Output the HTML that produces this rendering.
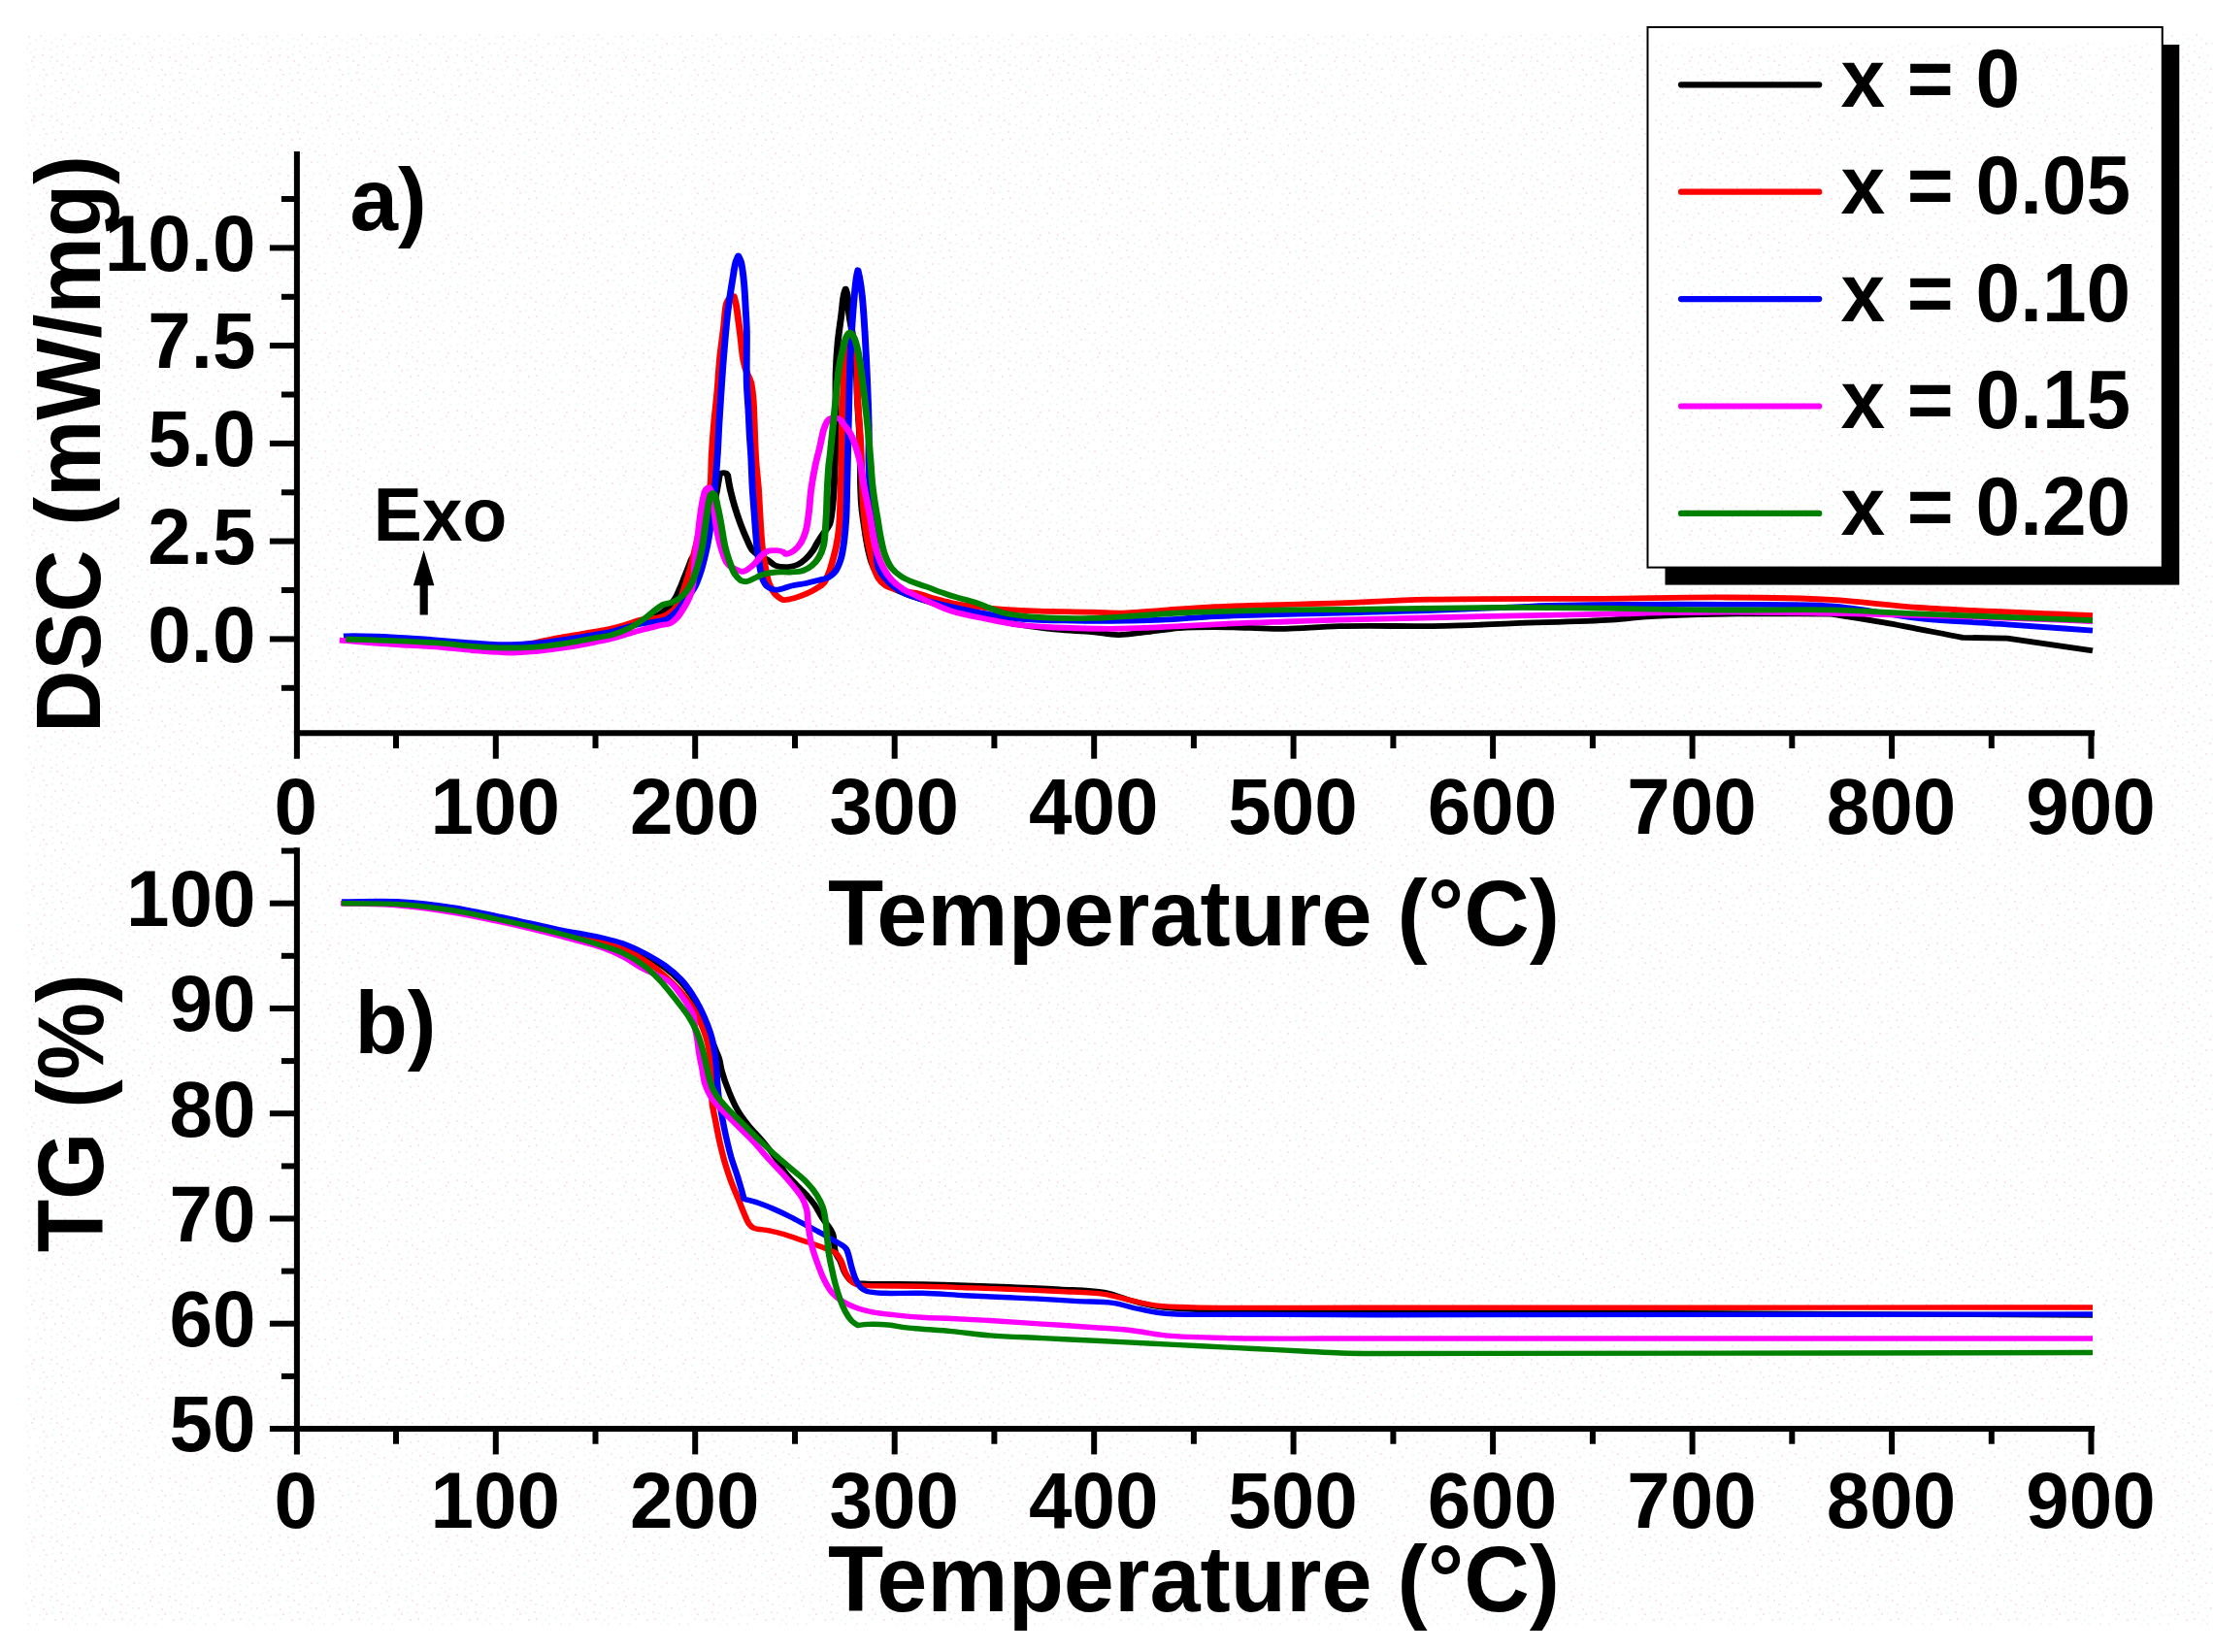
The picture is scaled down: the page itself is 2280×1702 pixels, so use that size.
<!DOCTYPE html>
<html lang="en"><head><meta charset="utf-8"><title>DSC and TG curves</title>
<style>html,body{margin:0;padding:0;background:#fff}body{width:2280px;height:1702px;overflow:hidden}svg{display:block}text{font-family:"Liberation Sans", sans-serif;font-weight:700;fill:#000}</style></head><body>
<svg width="2280" height="1702" viewBox="0 0 2280 1702">
<defs><pattern id="dz" width="61" height="61" patternUnits="userSpaceOnUse"><rect x="20.2" y="9.2" width="1.6" height="1.6" fill="#f6d8e1"/><rect x="41.2" y="3.2" width="1.6" height="1.6" fill="#e6f5f6"/><rect x="52.2" y="34.2" width="1.6" height="1.6" fill="#e6f5f6"/><rect x="23.2" y="37.2" width="1.6" height="1.6" fill="#e6f5f6"/><rect x="58.2" y="32.2" width="1.6" height="1.6" fill="#e6f5f6"/><rect x="2.2" y="5.2" width="1.6" height="1.6" fill="#f6d8e1"/><rect x="26.2" y="4.2" width="1.6" height="1.6" fill="#e6f5f6"/><rect x="5.2" y="35.2" width="1.6" height="1.6" fill="#f6d8e1"/><rect x="3.2" y="52.2" width="1.6" height="1.6" fill="#f0f1df"/><rect x="7.2" y="14.2" width="1.6" height="1.6" fill="#f0f1df"/><rect x="37.2" y="25.2" width="1.6" height="1.6" fill="#e6f5f6"/><rect x="14.2" y="2.2" width="1.6" height="1.6" fill="#f0f1df"/><rect x="54.2" y="8.2" width="1.6" height="1.6" fill="#e6f5f6"/><rect x="34.2" y="7.2" width="1.6" height="1.6" fill="#f0f1df"/><rect x="52.2" y="43.2" width="1.6" height="1.6" fill="#e6f5f6"/><rect x="36.2" y="40.2" width="1.6" height="1.6" fill="#e6f5f6"/><rect x="13.2" y="31.2" width="1.6" height="1.6" fill="#f0f1df"/><rect x="27.2" y="49.2" width="1.6" height="1.6" fill="#e6f5f6"/><rect x="29.2" y="37.2" width="1.6" height="1.6" fill="#f6d8e1"/><rect x="23.2" y="19.2" width="1.6" height="1.6" fill="#e6f5f6"/><rect x="44.2" y="49.2" width="1.6" height="1.6" fill="#e6f5f6"/><rect x="19.2" y="33.2" width="1.6" height="1.6" fill="#f6d8e1"/><rect x="56.2" y="21.2" width="1.6" height="1.6" fill="#f6d8e1"/><rect x="10.2" y="48.2" width="1.6" height="1.6" fill="#e6f5f6"/><rect x="36.2" y="50.2" width="1.6" height="1.6" fill="#e6f5f6"/><rect x="21.2" y="44.2" width="1.6" height="1.6" fill="#e6f5f6"/><rect x="38.2" y="31.2" width="1.6" height="1.6" fill="#f0f1df"/><rect x="30.2" y="44.2" width="1.6" height="1.6" fill="#e6f5f6"/><rect x="3.2" y="46.2" width="1.6" height="1.6" fill="#e6f5f6"/><rect x="41.2" y="36.2" width="1.6" height="1.6" fill="#f6d8e1"/><rect x="24.2" y="56.2" width="1.6" height="1.6" fill="#e6f5f6"/><rect x="1.2" y="29.2" width="1.6" height="1.6" fill="#e6f5f6"/><rect x="10.2" y="39.2" width="1.6" height="1.6" fill="#e6f5f6"/><rect x="47.2" y="15.2" width="1.6" height="1.6" fill="#f6d8e1"/><rect x="28.2" y="25.2" width="1.6" height="1.6" fill="#f0f1df"/><rect x="17.2" y="56.2" width="1.6" height="1.6" fill="#e6f5f6"/><rect x="52.2" y="27.2" width="1.6" height="1.6" fill="#f0f1df"/><rect x="43.2" y="56.2" width="1.6" height="1.6" fill="#f6d8e1"/><rect x="14.2" y="9.2" width="1.6" height="1.6" fill="#e6f5f6"/><rect x="31.2" y="53.2" width="1.6" height="1.6" fill="#f0f1df"/><rect x="9.2" y="26.2" width="1.6" height="1.6" fill="#f0f1df"/><rect x="57.2" y="55.2" width="1.6" height="1.6" fill="#f0f1df"/><rect x="28.2" y="10.2" width="1.6" height="1.6" fill="#e6f5f6"/><rect x="40.2" y="16.2" width="1.6" height="1.6" fill="#e6f5f6"/><rect x="9.2" y="6.2" width="1.6" height="1.6" fill="#e6f5f6"/><rect x="44.2" y="10.2" width="1.6" height="1.6" fill="#f6d8e1"/><rect x="1.2" y="13.2" width="1.6" height="1.6" fill="#f6d8e1"/><rect x="58.2" y="1.2" width="1.6" height="1.6" fill="#f6d8e1"/><rect x="51.2" y="50.2" width="1.6" height="1.6" fill="#e6f5f6"/><rect x="30.2" y="16.2" width="1.6" height="1.6" fill="#e6f5f6"/><rect x="22.2" y="28.2" width="1.6" height="1.6" fill="#e6f5f6"/><rect x="12.2" y="21.2" width="1.6" height="1.6" fill="#e6f5f6"/><rect x="57.2" y="39.2" width="1.6" height="1.6" fill="#e6f5f6"/><rect x="46.2" y="41.2" width="1.6" height="1.6" fill="#e6f5f6"/><rect x="58.2" y="47.2" width="1.6" height="1.6" fill="#e6f5f6"/><rect x="52.2" y="58.2" width="1.6" height="1.6" fill="#f6d8e1"/><rect x="32.2" y="1.2" width="1.6" height="1.6" fill="#f6d8e1"/><rect x="3.2" y="20.2" width="1.6" height="1.6" fill="#f6d8e1"/><rect x="15.2" y="44.2" width="1.6" height="1.6" fill="#f6d8e1"/><rect x="53.2" y="14.2" width="1.6" height="1.6" fill="#e6f5f6"/><rect x="45.2" y="27.2" width="1.6" height="1.6" fill="#f6d8e1"/><rect x="16.2" y="17.2" width="1.6" height="1.6" fill="#e6f5f6"/><rect x="16.2" y="25.2" width="1.6" height="1.6" fill="#e6f5f6"/><rect x="34.2" y="58.2" width="1.6" height="1.6" fill="#f6d8e1"/><rect x="44.2" y="20.2" width="1.6" height="1.6" fill="#e6f5f6"/><rect x="51.2" y="1.2" width="1.6" height="1.6" fill="#e6f5f6"/><rect x="8.2" y="58.2" width="1.6" height="1.6" fill="#f6d8e1"/><rect x="1.2" y="40.2" width="1.6" height="1.6" fill="#f0f1df"/></pattern></defs>
<rect width="2280" height="1702" fill="#ffffff"/>
<rect x="26" y="35" width="2254" height="1639" fill="url(#dz)"/>
<g id="top-curves" transform="scale(1.200 1)">
<path d="M297.50 659.0C310.83 659.5 324.10 659.8 337.50 660.5C351.04 661.2 366.07 662.0 378.33 663.0C388.41 663.9 396.73 665.2 405.83 666.0C414.78 666.7 423.54 667.4 432.50 667.5C441.59 667.6 450.92 667.3 460.00 666.5C468.97 665.7 477.73 664.2 486.67 662.5C495.79 660.7 505.13 658.8 514.17 656.0C523.19 653.3 534.36 649.3 540.83 646.0C544.79 644.0 546.48 641.9 550.00 640.0C554.39 637.7 561.44 635.9 565.33 633.5C568.03 631.8 569.56 630.3 571.67 628.0C574.29 625.1 577.46 620.5 579.50 616.8C581.26 613.6 582.21 610.5 583.50 607.1C584.92 603.3 586.24 599.0 587.58 595.0C588.93 591.0 590.33 586.6 591.58 582.9C592.64 579.8 593.12 577.2 594.58 574.4C596.30 571.2 599.68 569.0 601.67 565.0C604.24 559.8 605.83 551.7 607.50 545.0C609.15 538.4 610.37 531.4 611.67 525.0C612.86 519.1 614.01 513.8 615.00 508.0C616.02 502.0 616.78 495.7 617.67 489.5C618.17 488.9 618.45 488.0 619.17 487.6C620.15 487.1 622.39 487.1 623.33 487.6C624.00 488.0 624.22 488.9 624.67 489.5C625.42 494.4 625.96 499.1 626.92 504.2C627.99 510.0 629.41 516.4 630.92 522.4C632.43 528.5 634.23 534.8 636.00 540.5C637.60 545.6 639.26 550.4 641.00 555.0C642.63 559.3 643.93 564.1 646.08 567.2C647.90 569.8 650.27 571.4 652.50 573.0C654.64 574.6 656.97 575.2 659.17 576.8C661.56 578.5 663.50 581.7 666.25 582.9C669.28 584.3 673.50 584.4 676.75 584.1C679.64 583.8 682.33 583.1 684.83 581.7C687.39 580.3 689.76 578.0 691.92 575.6C694.13 573.2 696.20 570.1 697.92 567.2C699.53 564.5 700.56 561.5 702.00 558.7C703.48 555.8 705.04 552.9 706.67 550.0C708.39 546.9 710.85 544.0 712.08 540.5C713.36 536.9 713.53 532.9 714.08 528.4C714.75 523.0 715.18 516.8 715.58 510.3C716.05 502.8 716.24 495.1 716.58 486.1C717.02 474.6 717.76 459.8 717.92 447.0C718.07 434.7 717.60 422.1 717.58 410.7C717.57 400.5 717.46 391.3 717.75 381.6C718.04 371.9 718.56 362.3 719.33 352.6C720.11 342.9 721.51 332.3 722.42 323.6C723.16 316.4 723.60 308.7 724.42 304.0C724.89 301.3 725.47 299.7 726.00 297.6C726.50 299.7 727.08 301.3 727.50 304.0C728.23 308.7 728.27 316.9 729.00 323.6C729.77 330.7 731.14 338.1 732.08 345.3C733.03 352.6 734.02 358.6 734.67 367.1C735.58 379.1 735.56 396.2 736.17 410.7C736.78 425.2 737.90 441.6 738.33 454.2C738.67 463.9 738.76 472.1 738.83 480.0C738.90 486.6 738.70 491.7 738.83 498.2C738.99 505.7 739.27 514.9 739.83 522.4C740.32 528.9 741.14 534.7 741.83 540.5C742.48 545.9 743.12 551.4 743.83 556.3C744.46 560.6 745.06 564.5 745.83 568.4C746.57 572.1 747.24 575.7 748.33 579.3C749.45 582.9 750.79 586.8 752.50 590.0C754.15 593.1 756.07 595.9 758.33 598.5C760.75 601.3 763.60 603.8 766.67 606.0C769.95 608.3 773.29 610.0 777.50 612.0C783.10 614.7 790.91 617.3 797.50 620.0C803.96 622.6 809.51 625.4 816.67 628.0C825.50 631.2 836.64 634.3 846.67 637.0C856.64 639.7 866.60 642.1 876.67 644.0C886.77 646.0 897.00 647.5 907.17 648.7C917.28 649.9 928.15 650.0 937.50 651.0C945.57 651.9 952.50 654.0 960.00 654.1C967.50 654.2 974.47 652.5 982.50 651.4C991.79 650.2 1002.48 647.9 1012.50 647.0C1022.48 646.1 1032.43 646.0 1042.50 646.0C1052.71 646.0 1063.13 646.6 1073.33 646.9C1083.40 647.2 1092.24 647.9 1103.33 647.8C1117.18 647.6 1131.91 645.7 1150.00 645.2C1175.11 644.5 1212.93 645.5 1240.00 644.9C1262.26 644.4 1279.01 643.2 1300.83 642.2C1326.24 641.1 1361.97 640.2 1383.33 638.6C1396.93 637.6 1404.93 635.9 1416.67 635.0C1429.77 634.0 1445.22 633.4 1458.33 633.0C1470.06 632.6 1478.13 632.5 1491.67 632.4C1512.74 632.2 1545.56 632.5 1572.50 632.6C1587.50 635.5 1601.01 637.9 1617.50 641.4C1637.75 645.7 1662.50 651.7 1685.00 656.8L1723.33 657.7L1796.67 670.4" fill="none" stroke="#000000" stroke-width="5.8" stroke-linejoin="round" stroke-linecap="butt"/>
<path d="M297.50 659.0C310.83 659.3 324.10 659.5 337.50 660.0C351.04 660.5 366.07 661.1 378.33 662.0C388.41 662.7 396.73 663.8 405.83 664.5C414.79 665.2 423.56 666.4 432.50 666.0C441.61 665.6 452.50 663.5 460.00 662.0C465.27 660.9 468.10 659.7 473.33 658.5C480.77 656.7 491.61 654.7 500.42 652.8C508.81 651.0 518.12 649.4 525.00 647.5C530.07 646.1 533.81 644.7 538.08 643.2C542.22 641.7 545.93 639.8 550.25 638.6C554.97 637.3 561.13 637.5 565.33 636.2C568.50 635.2 570.85 634.4 573.42 632.5C576.27 630.4 579.47 627.3 581.50 624.0C583.44 620.8 584.23 617.1 585.50 613.2C586.95 608.7 588.36 603.3 589.58 598.6C590.69 594.4 591.72 590.3 592.58 586.5C593.35 583.1 593.82 580.6 594.58 576.8C595.65 571.6 597.08 564.6 598.33 558.0C599.72 550.7 601.14 542.4 602.50 535.0C603.77 528.1 604.92 521.0 606.25 515.0C607.36 510.0 608.93 506.9 609.75 501.3C610.99 492.8 610.53 479.6 611.08 468.7C611.64 457.8 612.29 446.9 613.08 436.0C613.88 425.1 615.03 414.2 615.83 403.3C616.64 392.4 617.02 381.6 617.92 370.7C618.82 359.8 620.18 348.3 621.25 338.0C622.20 328.8 622.34 317.3 624.00 311.9C624.84 309.2 625.87 307.4 627.08 306.3C628.00 305.5 629.14 305.6 630.17 305.3C630.75 308.0 631.35 310.1 631.92 313.5C632.82 319.0 633.76 328.5 634.50 335.0C635.11 340.4 635.57 344.8 636.08 350.0C636.63 355.5 637.05 362.2 637.67 367.0C638.12 370.5 638.57 373.2 639.17 376.0C639.72 378.6 640.28 380.8 641.08 383.5C642.03 386.6 643.70 389.7 644.58 393.5C645.68 398.2 646.10 404.1 646.58 410.0C647.14 416.8 647.23 424.4 647.50 432.0C647.79 440.3 647.93 449.7 648.25 458.0C648.55 465.6 648.87 472.7 649.33 480.0C649.79 487.2 650.52 493.8 651.00 501.3C651.54 509.8 651.89 519.6 652.33 528.4C652.75 536.7 653.08 545.1 653.58 552.6C654.02 559.1 654.44 565.1 655.08 570.8C655.66 575.9 656.34 580.4 657.17 585.3C658.03 590.4 658.68 596.4 660.17 601.0C661.48 605.1 663.32 609.1 665.25 611.9C666.77 614.1 668.81 615.8 670.25 616.8C671.18 617.5 671.63 617.9 672.75 618.0C674.81 618.3 678.76 617.2 681.83 616.2C685.14 615.2 688.79 613.5 691.92 611.9C694.78 610.4 697.39 608.9 699.92 607.1C702.41 605.3 705.05 603.7 707.00 601.0C709.22 597.9 710.72 593.0 712.08 588.9C713.40 584.9 714.12 581.0 715.08 576.8C716.13 572.2 717.24 567.3 718.08 562.3C718.95 557.2 719.66 552.0 720.17 546.6C720.71 540.8 720.90 534.9 721.17 528.4C721.48 520.9 721.64 512.3 721.83 504.2C722.03 496.1 722.17 489.1 722.33 480.0C722.54 468.3 722.65 452.3 722.92 440.0C723.14 429.5 723.43 420.4 723.75 410.7C724.07 401.0 724.30 390.3 724.83 381.6C725.27 374.4 725.61 366.7 726.50 362.0C727.02 359.2 727.48 355.7 728.42 355.5C729.26 355.3 730.66 357.9 731.67 359.5C732.92 361.5 734.24 363.4 735.08 367.1C736.98 375.5 735.72 396.2 736.33 410.7C736.94 425.2 738.10 439.7 738.75 454.2C739.41 468.8 739.78 485.7 740.25 498.2C740.60 507.5 740.77 514.9 741.25 522.4C741.67 528.9 742.21 534.7 742.83 540.5C743.42 546.0 744.07 551.2 744.83 556.3C745.57 561.2 746.41 566.0 747.33 570.8C748.27 575.6 749.14 580.9 750.42 585.3C751.55 589.3 752.65 593.1 754.42 596.2C756.07 599.1 757.99 601.6 760.50 603.5C763.33 605.7 766.91 606.8 770.83 608.0C775.73 609.5 782.31 609.8 787.75 611.3C792.96 612.8 797.90 615.2 802.83 616.8C807.53 618.4 811.47 619.7 816.67 621.0C823.23 622.6 831.65 624.0 839.17 625.2C846.65 626.3 853.59 627.2 861.67 627.9C871.03 628.7 880.94 629.3 892.08 629.7C905.67 630.2 923.77 630.3 937.33 630.6C948.41 630.9 957.45 631.8 967.50 631.5C977.56 631.2 986.59 629.7 997.67 628.8C1011.22 627.7 1027.83 626.1 1042.92 625.2C1057.99 624.3 1071.91 623.9 1088.17 623.3C1107.17 622.6 1128.37 622.3 1150.00 621.4C1173.89 620.4 1195.96 618.5 1225.42 617.7C1267.06 616.6 1330.27 617.2 1376.25 616.8C1414.99 616.4 1449.30 615.2 1483.33 615.5C1514.35 615.7 1543.86 616.0 1572.25 617.9C1598.45 619.7 1618.26 623.6 1647.67 626.0C1688.93 629.4 1747.00 631.5 1796.67 634.2" fill="none" stroke="#ff0000" stroke-width="5.8" stroke-linejoin="round" stroke-linecap="butt"/>
<path d="M295.00 655.6C296.11 655.5 296.56 655.3 298.33 655.3C305.40 655.1 333.45 656.2 351.17 657.4C369.14 658.6 390.42 661.2 405.42 662.4C416.02 663.2 423.53 664.2 432.58 664.2C441.64 664.2 450.72 663.5 459.75 662.6C468.80 661.6 477.81 660.1 486.83 658.5C495.90 656.9 506.96 654.4 514.00 653.0C518.48 652.1 521.07 651.8 525.00 650.7C529.68 649.4 535.44 646.9 540.17 645.5C544.25 644.3 547.81 643.3 551.67 642.5C555.53 641.6 559.70 641.2 563.33 640.4C566.56 639.7 569.62 639.6 572.42 638.0C575.37 636.3 577.86 633.3 580.50 630.1C583.60 626.4 586.82 621.2 589.58 616.8C592.14 612.7 594.61 609.2 596.58 604.7C598.70 599.9 600.18 594.4 601.67 588.9C603.23 583.1 604.48 576.9 605.67 570.8C606.84 564.8 607.90 558.7 608.75 552.6C609.59 546.6 610.13 540.7 610.75 534.5C611.39 528.1 611.95 520.9 612.50 515.0C612.96 510.0 613.38 506.8 613.83 501.3C614.53 492.8 615.40 479.6 616.00 468.7C616.60 457.8 616.89 446.9 617.42 436.0C617.94 425.1 618.56 414.2 619.17 403.3C619.78 392.4 620.27 382.7 621.08 370.7C622.08 356.0 623.38 336.4 624.83 321.7C626.03 309.7 627.56 298.4 628.83 289.0C629.81 281.8 630.54 274.6 631.67 270.0C632.35 267.2 633.17 265.7 633.92 263.5C634.69 265.7 635.59 267.2 636.25 270.0C637.34 274.6 637.96 282.0 638.58 289.0C639.35 297.6 639.73 309.0 640.17 318.0C640.54 325.8 640.90 331.1 641.08 340.0C641.37 353.9 640.69 378.0 641.08 393.5C641.38 405.4 642.23 415.3 642.67 425.0C643.04 433.3 643.22 440.5 643.58 448.0C643.92 455.1 644.38 460.9 644.75 468.7C645.23 478.9 645.55 493.5 646.08 504.2C646.52 513.0 647.08 520.3 647.58 528.4C648.08 536.5 648.54 545.1 649.08 552.6C649.55 559.1 649.95 565.1 650.58 570.8C651.15 575.9 651.79 580.7 652.58 585.3C653.31 589.5 653.82 594.0 655.08 597.4C656.14 600.3 657.32 603.0 659.17 604.7C661.03 606.4 663.49 607.6 666.25 607.7C670.01 607.9 675.35 604.6 679.75 603.5C683.89 602.4 688.07 602.0 691.92 601.0C695.45 600.1 698.73 599.0 702.00 598.0C705.11 597.0 708.49 596.6 711.08 595.0C713.45 593.5 715.41 591.6 717.08 588.9C719.07 585.7 720.50 581.1 721.67 576.8C722.90 572.3 723.51 567.2 724.17 562.3C724.85 557.2 725.26 552.0 725.67 546.6C726.11 540.8 726.42 534.9 726.67 528.4C726.95 520.9 727.00 512.3 727.17 504.2C727.33 496.1 727.49 488.9 727.67 480.0C727.88 469.2 728.11 455.8 728.33 444.0C728.55 432.5 728.74 421.8 729.00 410.0C729.29 397.2 729.57 382.6 730.00 370.0C730.39 358.7 730.84 348.5 731.42 337.7C732.00 326.8 732.77 314.4 733.50 305.0C734.06 297.8 734.60 290.9 735.25 286.0C735.67 282.8 736.14 280.9 736.58 278.3C737.06 280.9 737.52 282.9 738.00 286.0C738.74 290.9 739.58 297.5 740.25 305.0C741.22 315.9 741.95 330.9 742.67 345.0C743.47 361.0 744.19 379.3 744.75 396.0C745.29 412.2 745.85 429.6 746.00 444.0C746.12 455.7 745.68 466.3 745.83 476.0C745.96 484.1 746.21 491.2 746.67 498.2C747.08 504.5 747.81 509.9 748.33 516.3C748.93 523.7 749.39 532.0 750.00 540.0C750.63 548.2 751.30 557.1 752.08 565.0C752.79 572.1 752.79 579.9 754.42 585.3C755.63 589.3 757.45 591.9 759.50 595.0C761.74 598.4 764.51 601.9 767.50 604.7C770.55 607.6 774.02 609.9 777.67 611.9C781.50 614.0 785.82 615.5 790.00 617.0C794.21 618.5 798.47 619.7 802.83 621.0C807.35 622.4 811.16 623.5 816.67 625.0C824.77 627.2 836.75 630.3 846.83 632.4C856.87 634.5 865.90 636.6 877.00 637.8C890.53 639.3 907.16 639.3 922.25 639.6C937.33 639.9 953.94 639.8 967.50 639.6C978.57 639.4 986.60 639.3 997.67 638.7C1011.23 638.0 1027.83 636.0 1042.92 635.1C1057.99 634.2 1071.91 633.9 1088.17 633.3C1107.17 632.6 1128.40 632.2 1150.00 631.5C1173.79 630.8 1199.93 630.0 1225.00 629.0C1250.21 628.0 1281.31 626.4 1300.83 625.5C1313.11 624.9 1316.97 624.4 1330.83 624.0C1362.07 623.1 1439.32 622.6 1483.33 622.8C1516.95 623.0 1549.22 622.3 1572.25 624.3C1586.98 625.6 1596.05 627.9 1608.33 630.0C1621.17 632.2 1632.40 635.0 1647.67 637.0C1668.71 639.7 1698.10 641.2 1723.08 643.3C1747.76 645.4 1772.14 647.5 1796.67 649.6" fill="none" stroke="#0000ff" stroke-width="5.8" stroke-linejoin="round" stroke-linecap="butt"/>
<path d="M291.50 659.6C306.83 661.0 322.62 662.6 337.50 663.8C351.51 665.0 366.07 665.6 378.33 666.8C388.41 667.8 396.22 669.1 405.83 670.0C416.40 671.0 429.35 672.5 439.17 672.5C446.92 672.5 452.64 671.8 460.00 671.0C468.35 670.1 477.73 668.7 486.67 667.0C495.78 665.3 507.11 662.5 514.17 660.8C518.61 659.7 520.85 659.2 525.00 657.9C530.71 656.1 538.43 653.1 545.17 650.9C551.88 648.7 559.75 646.1 565.33 644.6C569.26 643.5 572.61 643.8 575.42 642.2C577.87 640.8 579.61 638.7 581.50 636.2C583.72 633.3 585.75 629.1 587.58 625.3C589.45 621.4 591.29 617.8 592.58 613.2C594.10 607.9 594.83 601.5 595.58 595.0C596.44 587.5 596.51 578.3 597.17 570.8C597.74 564.3 598.52 558.9 599.17 552.6C599.85 546.0 600.39 538.7 601.17 532.1C601.90 525.8 602.67 519.0 603.67 513.9C604.41 510.1 604.94 506.0 606.17 504.2C606.89 503.1 608.01 502.2 608.75 502.5C609.87 503.0 610.54 506.8 611.25 510.0C612.40 515.1 612.97 524.2 613.75 530.8C614.46 536.8 614.80 542.0 615.75 547.8C616.78 554.1 618.31 561.5 619.83 567.2C621.06 571.8 622.26 576.3 623.83 579.3C624.94 581.4 626.11 582.8 627.50 584.0C628.82 585.2 630.38 585.7 631.92 586.5C633.54 587.3 635.31 588.9 637.00 588.9C638.67 588.9 640.33 587.7 642.00 586.5C644.02 585.1 646.14 582.8 648.08 580.5C650.19 578.0 652.04 574.2 654.08 572.0C655.75 570.2 657.23 568.6 659.17 567.8C661.25 566.9 663.99 567.1 666.25 567.2C668.34 567.3 670.74 567.7 672.25 568.5C673.34 569.1 673.85 570.6 674.75 570.8C675.60 571.0 676.51 570.5 677.50 570.0C678.81 569.4 680.38 568.6 681.83 567.2C683.82 565.3 686.19 562.0 687.83 558.7C689.61 555.2 690.86 551.1 691.92 546.6C693.18 541.2 693.70 534.9 694.42 528.4C695.24 520.9 695.50 512.2 696.42 504.2C697.33 496.1 698.62 487.5 699.92 480.0C701.06 473.4 702.45 467.7 703.67 461.5C704.89 455.2 705.95 447.5 707.25 442.6C708.12 439.3 709.01 436.5 710.00 434.5C710.66 433.2 711.15 432.2 712.08 431.5C713.15 430.7 714.85 430.5 716.25 430.5C717.68 430.5 719.32 430.6 720.58 431.5C722.01 432.5 722.84 434.7 724.17 436.8C725.96 439.6 728.50 443.2 730.25 447.0C732.20 451.3 733.69 456.5 735.08 461.5C736.54 466.8 737.74 472.2 738.75 478.0C739.86 484.4 740.37 491.7 741.33 498.2C742.24 504.4 743.33 510.3 744.33 516.3C745.33 522.4 746.40 528.4 747.33 534.5C748.26 540.5 748.91 546.6 749.92 552.6C750.93 558.7 751.90 565.2 753.42 570.8C754.81 576.0 756.44 580.8 758.50 585.3C760.49 589.6 762.70 593.8 765.50 597.4C768.37 601.1 771.93 604.3 775.58 607.1C779.33 610.0 783.46 611.9 787.75 614.4C792.49 617.1 797.89 620.2 802.83 622.8C807.52 625.2 811.08 627.4 816.67 629.5C824.71 632.5 836.75 635.3 846.83 637.8C856.86 640.2 866.91 642.7 877.00 644.2C887.02 645.6 896.09 645.9 907.17 646.5C920.72 647.2 938.86 647.8 952.42 647.8C963.49 647.8 972.53 647.3 982.58 646.9C992.64 646.4 1001.68 645.8 1012.75 645.1C1026.31 644.3 1042.91 643.2 1058.00 642.4C1073.08 641.6 1088.04 641.1 1103.25 640.5C1118.71 639.9 1129.98 639.3 1150.00 638.6C1185.96 637.4 1258.08 635.5 1300.83 634.4C1332.45 633.6 1359.26 633.2 1383.33 632.6C1402.08 632.1 1416.67 631.5 1433.33 631.2C1450.00 630.9 1465.05 630.6 1483.33 630.6C1505.55 630.6 1533.80 631.1 1557.17 631.5C1578.29 631.9 1595.34 632.4 1617.50 633.0C1644.69 633.8 1678.27 634.8 1708.33 636.0C1737.99 637.2 1767.22 638.7 1796.67 640.0" fill="none" stroke="#ff00ff" stroke-width="5.8" stroke-linejoin="round" stroke-linecap="butt"/>
<path d="M296.92 658.5C310.47 659.0 324.02 659.4 337.58 660.1C351.16 660.8 366.14 661.5 378.33 662.6C388.29 663.5 396.37 665.0 405.42 665.8C414.46 666.6 423.53 667.4 432.58 667.5C441.64 667.6 450.72 667.4 459.75 666.6C468.80 665.8 477.82 664.3 486.83 662.6C495.90 660.9 506.96 658.1 514.00 656.6C518.48 655.6 521.09 655.5 525.00 654.2C529.71 652.6 535.41 650.1 540.17 647.3C544.81 644.5 549.25 640.8 553.25 637.4C556.91 634.3 560.53 630.2 563.33 627.7C565.27 625.9 566.31 624.6 568.33 623.4C570.84 622.0 574.63 621.9 577.50 620.4C580.36 618.9 583.03 617.2 585.50 614.4C588.48 611.1 591.41 605.9 593.58 601.0C595.85 595.9 597.18 590.0 598.67 584.1C600.23 577.9 601.54 571.6 602.67 564.7C603.92 557.1 604.65 548.6 605.67 540.5C606.68 532.4 607.72 521.9 608.75 516.3C609.30 513.3 609.66 510.9 610.42 509.5C610.85 508.7 611.42 508.5 611.92 508.0C612.47 508.7 613.09 509.0 613.58 510.0C614.52 512.0 615.01 516.1 615.75 519.9C616.75 525.0 617.81 531.6 618.83 538.1C620.01 545.6 620.99 555.3 622.33 562.3C623.39 567.8 624.43 572.0 625.83 576.8C627.27 581.7 628.91 587.6 630.92 591.4C632.43 594.2 634.13 596.7 636.00 598.0C637.55 599.0 639.17 599.4 641.00 599.2C643.41 598.9 646.48 596.3 649.08 595.0C651.52 593.7 653.55 592.3 656.17 591.4C659.18 590.4 662.70 589.8 666.25 589.5C670.18 589.1 674.72 589.8 678.75 589.5C682.56 589.2 686.64 589.0 689.83 587.7C692.56 586.6 694.78 585.0 696.92 582.9C699.20 580.6 701.35 577.7 703.00 574.4C704.78 570.9 706.09 566.7 707.00 562.3C708.01 557.5 708.09 552.0 708.50 546.6C708.94 540.8 709.22 534.9 709.50 528.4C709.82 520.9 709.92 512.3 710.25 504.2C710.58 496.1 710.99 486.5 711.50 480.0C711.85 475.5 712.23 473.3 712.67 468.7C713.36 461.3 714.26 449.4 715.08 439.7C715.90 430.0 716.76 420.4 717.58 410.7C718.40 401.0 718.89 390.6 720.00 381.6C720.96 373.8 722.32 366.2 723.58 359.9C724.57 355.0 725.34 350.1 726.67 347.0C727.54 344.9 728.63 342.4 729.67 342.4C730.72 342.4 731.96 344.9 732.92 347.0C734.35 350.1 735.35 355.0 736.33 359.9C737.59 366.2 738.40 373.8 739.33 381.6C740.42 390.6 741.36 400.7 742.33 410.7C743.37 421.4 744.45 432.8 745.33 444.0C746.23 455.3 747.02 468.1 747.67 478.0C748.16 485.6 748.35 491.7 748.92 498.2C749.45 504.4 750.17 510.3 750.92 516.3C751.67 522.4 752.58 528.4 753.42 534.5C754.25 540.5 754.91 546.6 755.92 552.6C756.93 558.7 757.81 565.2 759.50 570.8C761.07 576.0 762.96 581.3 765.50 585.3C767.77 588.8 770.67 591.5 773.58 593.8C776.41 596.1 779.32 597.5 782.67 599.2C786.59 601.2 791.47 602.9 795.75 604.7C799.89 606.5 804.19 608.5 807.92 610.1C811.07 611.5 813.05 612.4 816.67 613.8C822.41 616.0 831.71 618.6 839.17 621.5C846.71 624.5 853.48 629.1 861.67 631.5C870.92 634.2 880.92 635.1 892.08 636.0C905.65 637.1 923.78 637.2 937.33 636.9C948.41 636.7 956.43 635.9 967.50 635.1C981.06 634.2 997.66 632.4 1012.75 631.5C1027.83 630.6 1042.92 630.2 1058.00 629.7C1073.08 629.2 1088.04 628.7 1103.25 628.4C1118.71 628.1 1129.98 628.2 1150.00 628.0C1185.96 627.6 1248.16 625.9 1300.83 625.9C1358.77 625.9 1433.32 628.2 1483.33 628.5C1518.24 628.7 1543.84 627.7 1572.25 628.4C1598.43 629.1 1618.29 631.0 1647.67 632.4C1688.96 634.4 1747.00 636.9 1796.67 639.1" fill="none" stroke="#008000" stroke-width="5.8" stroke-linejoin="round" stroke-linecap="butt"/>
</g>
<g id="bottom-curves" transform="scale(1.200 1)">
<path d="M293.33 930.5C310.11 930.7 327.36 929.8 343.67 931.0C359.18 932.1 373.88 934.3 388.92 937.0C404.05 939.8 419.10 943.8 434.17 947.5C449.27 951.3 465.05 956.0 479.42 959.5C492.42 962.7 506.51 965.0 516.67 968.0C523.85 970.1 528.84 971.9 534.83 974.5C540.96 977.2 547.05 980.3 553.00 984.0C559.17 987.9 565.71 992.6 571.17 997.5C576.20 1002.0 580.84 1007.0 584.75 1012.0C588.28 1016.5 591.10 1021.1 593.83 1026.0C596.57 1030.9 598.96 1036.2 601.17 1041.5C603.38 1046.8 605.40 1052.8 607.08 1058.0C608.56 1062.6 609.53 1066.9 610.83 1071.0C612.04 1074.8 613.42 1078.5 614.58 1082.0C615.62 1085.1 616.69 1087.6 617.50 1090.8C618.44 1094.6 618.58 1098.6 619.67 1103.3C621.12 1109.6 623.65 1118.2 626.00 1125.1C628.21 1131.6 630.45 1137.9 633.25 1143.6C635.93 1149.1 638.93 1153.8 642.33 1158.9C646.09 1164.6 650.94 1170.1 655.00 1176.0C659.05 1181.8 663.29 1188.3 666.67 1194.0C669.54 1198.9 671.39 1203.6 674.17 1207.9C676.92 1212.2 680.18 1216.0 683.25 1219.9C686.24 1223.7 689.56 1227.1 692.33 1230.8C694.98 1234.3 697.36 1237.8 699.58 1241.7C701.90 1245.8 703.63 1250.6 705.92 1254.8C708.19 1259.0 711.62 1263.4 713.25 1266.8C714.34 1269.1 714.89 1270.5 715.42 1273.0C716.14 1276.4 716.02 1281.9 716.50 1285.4C716.85 1288.0 717.03 1289.8 717.75 1292.0C718.55 1294.4 720.16 1296.3 721.25 1299.0C722.59 1302.3 723.44 1307.1 724.92 1310.5C726.22 1313.5 727.60 1316.4 729.42 1318.3C731.03 1320.0 732.82 1320.9 735.00 1321.6C737.71 1322.5 740.18 1322.2 744.58 1322.4C754.34 1322.9 776.87 1322.7 791.67 1323.0C804.86 1323.3 816.60 1323.7 829.08 1324.2C841.60 1324.7 853.69 1325.2 866.67 1325.8C880.60 1326.5 896.03 1327.2 910.00 1328.2C923.09 1329.1 937.06 1329.1 948.00 1331.5C956.63 1333.4 963.09 1337.3 970.67 1339.7C978.17 1342.1 985.13 1344.5 993.25 1346.0C1002.53 1347.7 1009.38 1348.2 1023.42 1349.0C1055.68 1350.8 1112.76 1350.3 1183.33 1351.0C1321.55 1352.3 1592.22 1353.7 1796.67 1355.0" fill="none" stroke="#000000" stroke-width="5.4" stroke-linejoin="round" stroke-linecap="butt"/>
<path d="M293.33 930.5C310.11 931.0 327.36 930.6 343.67 932.0C359.18 933.3 373.88 935.6 388.92 938.5C404.05 941.4 419.10 945.6 434.17 949.5C449.27 953.4 465.04 958.4 479.42 962.0C492.41 965.3 506.52 967.3 516.67 970.4C523.87 972.6 528.59 974.1 534.83 977.4C542.13 981.2 551.04 987.5 557.50 992.7C562.79 997.0 566.73 1001.0 571.17 1005.8C575.82 1010.8 580.80 1016.7 584.75 1022.1C588.23 1026.9 591.20 1031.4 593.83 1036.3C596.33 1040.9 598.39 1045.8 600.25 1050.5C601.99 1054.9 603.50 1059.3 604.75 1063.5C605.87 1067.3 606.73 1070.7 607.50 1074.4C608.26 1078.0 608.83 1081.3 609.33 1085.3C609.94 1090.2 610.37 1096.1 610.67 1101.7C610.97 1107.6 610.94 1114.0 611.08 1120.0C611.22 1125.8 610.98 1131.4 611.50 1137.1C612.03 1142.9 613.26 1148.4 614.25 1154.5C615.36 1161.4 616.48 1169.1 617.83 1176.3C619.20 1183.6 620.71 1191.1 622.42 1198.1C624.06 1204.8 625.86 1211.3 627.83 1217.7C629.78 1224.0 632.14 1230.2 634.17 1236.2C636.07 1241.8 637.96 1248.0 639.67 1252.6C640.93 1256.0 641.84 1259.1 643.25 1261.3C644.34 1263.0 645.15 1264.1 646.92 1265.1C649.90 1266.8 656.19 1266.7 660.50 1267.8C664.49 1268.8 667.96 1269.8 671.92 1271.2C676.29 1272.7 681.03 1274.9 685.58 1276.7C690.12 1278.5 695.00 1280.4 699.17 1282.1C702.77 1283.6 706.02 1285.0 709.17 1286.5C712.05 1287.9 715.18 1288.7 717.33 1290.8C719.36 1292.8 720.61 1295.5 721.92 1298.5C723.44 1302.0 724.12 1306.9 725.58 1310.5C726.89 1313.7 728.28 1317.0 730.08 1319.2C731.66 1321.1 733.35 1322.6 735.50 1323.5C738.05 1324.6 740.37 1324.3 744.58 1324.6C754.16 1325.2 776.87 1324.8 791.67 1325.2C804.86 1325.5 816.60 1326.2 829.08 1326.7C841.60 1327.2 853.67 1327.6 866.67 1328.2C880.68 1328.9 896.32 1329.7 910.33 1330.6C923.36 1331.4 937.09 1331.4 948.00 1333.3C956.57 1334.8 963.10 1337.7 970.67 1339.7C978.19 1341.7 985.14 1343.9 993.25 1345.1C1002.54 1346.5 1009.39 1346.5 1023.42 1346.9C1055.69 1347.9 1112.76 1347.2 1183.33 1347.3C1321.55 1347.4 1592.22 1347.1 1796.67 1347.0" fill="none" stroke="#ff0000" stroke-width="5.4" stroke-linejoin="round" stroke-linecap="butt"/>
<path d="M293.33 929.0C310.11 929.0 327.36 927.9 343.67 929.0C359.18 930.0 373.88 932.3 388.92 935.0C404.05 937.8 419.10 941.8 434.17 945.5C449.27 949.3 465.05 954.0 479.42 957.5C492.42 960.7 506.49 963.2 516.67 966.0C523.84 968.0 528.86 969.4 534.83 972.0C540.98 974.7 547.04 978.1 553.00 981.8C559.15 985.7 565.70 990.1 571.17 994.9C576.20 999.3 580.85 1004.0 584.75 1009.0C588.30 1013.5 591.09 1018.3 593.83 1023.2C596.56 1028.1 598.92 1033.2 601.17 1038.5C603.49 1044.0 605.76 1050.5 607.50 1055.9C608.99 1060.5 610.14 1064.4 611.17 1069.0C612.29 1074.1 613.15 1079.8 613.83 1085.3C614.51 1090.7 614.87 1096.2 615.25 1101.7C615.62 1107.1 615.71 1112.6 616.08 1118.0C616.46 1123.4 616.89 1128.8 617.50 1134.0C618.09 1139.1 618.81 1143.5 619.67 1149.0C620.70 1155.6 621.98 1163.6 623.33 1170.8C624.70 1178.1 626.21 1185.9 627.83 1192.6C629.26 1198.5 631.01 1203.7 632.42 1209.0C633.72 1213.9 634.90 1218.7 636.00 1223.2C637.00 1227.3 637.83 1231.1 638.75 1235.1C642.97 1236.6 647.15 1237.7 651.42 1239.5C655.92 1241.3 660.57 1243.6 665.08 1246.0C669.65 1248.4 674.16 1251.0 678.67 1253.7C683.24 1256.5 687.79 1259.5 692.33 1262.4C696.87 1265.3 701.67 1268.3 705.92 1271.1C709.73 1273.6 713.72 1276.5 716.67 1278.5C718.73 1279.9 720.28 1280.8 721.92 1282.1C723.52 1283.4 725.29 1284.6 726.42 1286.5C727.63 1288.5 728.04 1291.3 728.75 1294.1C729.59 1297.4 730.08 1301.2 731.00 1305.0C732.02 1309.2 733.16 1314.3 734.67 1318.1C735.96 1321.4 737.34 1324.7 739.17 1326.8C740.73 1328.6 742.26 1329.7 744.58 1330.6C748.01 1331.9 752.68 1332.0 758.25 1332.3C766.93 1332.8 780.22 1331.9 791.67 1332.3C803.79 1332.7 816.60 1334.0 829.08 1334.7C841.60 1335.5 855.95 1336.2 866.67 1336.8C874.68 1337.2 879.65 1337.4 887.67 1337.9C898.42 1338.6 913.54 1339.8 925.42 1340.6C936.03 1341.3 946.31 1340.8 955.58 1342.4C963.71 1343.8 970.61 1346.9 978.17 1348.7C985.69 1350.5 991.03 1352.3 1000.83 1353.3C1018.59 1355.2 1048.91 1354.0 1076.25 1354.2C1108.82 1354.5 1132.98 1354.6 1183.33 1354.7C1303.83 1354.9 1592.22 1354.2 1796.67 1354.0" fill="none" stroke="#0000ff" stroke-width="5.4" stroke-linejoin="round" stroke-linecap="butt"/>
<path d="M292.50 930.5C309.44 931.3 326.93 931.3 343.33 933.0C358.82 934.6 373.31 937.0 388.33 940.0C403.58 943.0 418.99 947.0 434.17 951.0C449.27 955.0 464.88 959.6 479.17 964.0C492.26 968.0 506.50 972.1 516.67 976.3C523.91 979.3 528.88 982.0 534.83 985.6C541.00 989.4 547.49 995.3 553.00 998.7C557.33 1001.4 561.17 1002.7 565.00 1005.0C568.71 1007.2 572.47 1009.1 575.67 1012.3C579.11 1015.8 581.97 1020.9 584.75 1025.4C587.42 1029.7 590.16 1034.5 592.08 1038.5C593.60 1041.6 594.91 1044.0 595.67 1047.2C596.47 1050.5 596.13 1054.5 596.58 1058.1C597.04 1061.7 597.85 1065.0 598.42 1069.0C599.10 1073.9 599.50 1079.9 600.25 1085.3C601.00 1090.8 602.08 1096.4 602.92 1101.7C603.71 1106.7 603.92 1111.6 605.17 1116.3C606.45 1121.2 608.24 1126.0 610.58 1130.5C613.03 1135.2 616.24 1139.1 619.67 1143.6C623.65 1148.8 628.72 1154.5 633.25 1159.9C637.80 1165.4 642.44 1170.6 646.92 1176.3C651.53 1182.2 655.93 1188.8 660.50 1194.8C665.01 1200.8 670.13 1206.8 674.17 1212.3C677.56 1216.9 680.56 1221.1 683.25 1225.3C685.63 1229.0 687.98 1232.4 689.58 1236.2C691.08 1239.7 692.07 1243.4 692.75 1247.1C693.41 1250.7 693.35 1254.4 693.67 1258.0C693.99 1261.7 694.15 1265.0 694.67 1269.0C695.30 1273.9 696.22 1280.0 697.42 1285.4C698.63 1290.9 700.26 1296.3 701.92 1301.7C703.59 1307.2 705.25 1312.9 707.42 1318.1C709.52 1323.1 711.78 1328.4 714.67 1332.3C717.30 1335.9 720.39 1338.5 723.75 1341.0C727.30 1343.6 731.37 1345.7 735.50 1347.5C739.82 1349.4 744.25 1350.7 749.17 1351.9C754.76 1353.2 760.83 1353.8 767.33 1354.6C774.85 1355.6 783.47 1356.7 791.67 1357.3C800.02 1358.0 808.00 1358.0 817.00 1358.5C827.28 1359.1 838.14 1359.7 850.00 1360.5C863.90 1361.5 880.17 1362.9 895.25 1364.1C910.33 1365.3 926.94 1366.5 940.50 1367.7C951.57 1368.7 960.63 1369.1 970.67 1370.5C980.74 1371.9 989.35 1374.6 1000.83 1375.9C1015.94 1377.6 1032.10 1378.0 1053.58 1378.6C1087.26 1379.5 1124.08 1378.9 1183.33 1379.0C1312.15 1379.2 1592.22 1379.0 1796.67 1379.0" fill="none" stroke="#ff00ff" stroke-width="5.4" stroke-linejoin="round" stroke-linecap="butt"/>
<path d="M293.33 930.5C294.53 930.6 295.04 930.7 296.92 930.8C303.67 931.1 328.24 930.5 343.67 931.7C358.90 932.9 373.88 935.1 388.92 938.0C404.05 940.9 419.11 945.0 434.17 948.9C449.27 952.8 465.11 957.1 479.42 961.5C492.48 965.5 506.49 970.3 516.67 974.2C523.84 976.9 528.92 978.5 534.83 981.8C541.04 985.3 547.57 990.0 553.00 994.9C558.08 999.5 562.19 1004.5 566.58 1010.1C571.29 1016.1 576.01 1023.4 580.25 1029.8C584.16 1035.7 588.06 1041.3 591.17 1047.2C594.03 1052.6 596.44 1058.0 598.42 1063.5C600.33 1068.9 601.62 1074.4 602.92 1079.9C604.20 1085.3 605.10 1090.8 606.17 1096.2C607.24 1101.7 608.27 1108.1 609.33 1112.6C610.11 1115.9 610.69 1118.4 611.67 1121.0C612.62 1123.6 613.54 1125.6 615.08 1128.3C617.29 1132.1 620.73 1136.9 624.17 1141.4C628.17 1146.7 633.28 1152.3 637.83 1157.8C642.37 1163.2 646.84 1168.8 651.42 1174.1C655.93 1179.3 660.50 1184.5 665.08 1189.4C669.58 1194.2 674.13 1198.8 678.67 1203.5C683.22 1208.2 688.43 1212.8 692.33 1217.7C695.78 1222.0 698.76 1226.3 701.17 1230.9C703.40 1235.1 705.22 1239.4 706.50 1244.0C707.77 1248.5 708.24 1253.2 708.83 1258.1C709.46 1263.3 709.64 1269.0 710.08 1274.5C710.53 1279.9 710.82 1285.4 711.50 1290.8C712.18 1296.3 713.19 1301.8 714.17 1307.2C715.14 1312.7 716.15 1318.3 717.33 1323.5C718.45 1328.4 719.61 1333.1 721.00 1337.7C722.36 1342.2 723.82 1346.8 725.58 1350.8C727.19 1354.4 729.00 1358.0 731.00 1360.6C732.67 1362.7 734.61 1363.9 736.42 1365.5C739.14 1365.1 741.32 1364.6 744.58 1364.4C749.44 1364.2 757.14 1364.4 762.75 1365.0C767.65 1365.6 771.72 1367.0 776.42 1367.7C781.35 1368.4 785.94 1368.7 791.67 1369.3C799.04 1370.0 808.01 1370.6 817.00 1371.6C827.28 1372.7 838.12 1374.8 850.00 1375.9C863.88 1377.2 880.17 1377.7 895.25 1378.6C910.33 1379.5 925.42 1380.4 940.50 1381.3C955.58 1382.2 970.67 1383.1 985.75 1384.0C1000.83 1384.9 1015.92 1385.8 1031.00 1386.7C1046.08 1387.6 1061.17 1388.6 1076.25 1389.5C1091.33 1390.4 1107.94 1391.4 1121.50 1392.2C1132.57 1392.9 1141.49 1393.6 1151.67 1394.0C1162.09 1394.4 1166.13 1394.4 1183.33 1394.5C1259.04 1395.0 1592.22 1393.8 1796.67 1393.5" fill="none" stroke="#008000" stroke-width="5.4" stroke-linejoin="round" stroke-linecap="butt"/>
</g>
<g id="top-axes">
<line x1="305.9" y1="156.0" x2="305.9" y2="781.7" stroke="#000" stroke-width="6.0" stroke-linecap="butt"/>
<line x1="302.9" y1="755.3" x2="2158.1" y2="755.3" stroke="#000" stroke-width="6.0" stroke-linecap="butt"/>
<line x1="408.0" y1="755.3" x2="408.0" y2="771.0" stroke="#000" stroke-width="6.0" stroke-linecap="butt"/>
<line x1="510.8" y1="755.3" x2="510.8" y2="781.7" stroke="#000" stroke-width="6.0" stroke-linecap="butt"/>
<line x1="613.5" y1="755.3" x2="613.5" y2="771.0" stroke="#000" stroke-width="6.0" stroke-linecap="butt"/>
<line x1="716.2" y1="755.3" x2="716.2" y2="781.7" stroke="#000" stroke-width="6.0" stroke-linecap="butt"/>
<line x1="819.0" y1="755.3" x2="819.0" y2="771.0" stroke="#000" stroke-width="6.0" stroke-linecap="butt"/>
<line x1="921.7" y1="755.3" x2="921.7" y2="781.7" stroke="#000" stroke-width="6.0" stroke-linecap="butt"/>
<line x1="1024.4" y1="755.3" x2="1024.4" y2="771.0" stroke="#000" stroke-width="6.0" stroke-linecap="butt"/>
<line x1="1127.2" y1="755.3" x2="1127.2" y2="781.7" stroke="#000" stroke-width="6.0" stroke-linecap="butt"/>
<line x1="1229.9" y1="755.3" x2="1229.9" y2="771.0" stroke="#000" stroke-width="6.0" stroke-linecap="butt"/>
<line x1="1332.6" y1="755.3" x2="1332.6" y2="781.7" stroke="#000" stroke-width="6.0" stroke-linecap="butt"/>
<line x1="1435.4" y1="755.3" x2="1435.4" y2="771.0" stroke="#000" stroke-width="6.0" stroke-linecap="butt"/>
<line x1="1538.1" y1="755.3" x2="1538.1" y2="781.7" stroke="#000" stroke-width="6.0" stroke-linecap="butt"/>
<line x1="1640.9" y1="755.3" x2="1640.9" y2="771.0" stroke="#000" stroke-width="6.0" stroke-linecap="butt"/>
<line x1="1743.6" y1="755.3" x2="1743.6" y2="781.7" stroke="#000" stroke-width="6.0" stroke-linecap="butt"/>
<line x1="1846.3" y1="755.3" x2="1846.3" y2="771.0" stroke="#000" stroke-width="6.0" stroke-linecap="butt"/>
<line x1="1949.1" y1="755.3" x2="1949.1" y2="781.7" stroke="#000" stroke-width="6.0" stroke-linecap="butt"/>
<line x1="2051.8" y1="755.3" x2="2051.8" y2="771.0" stroke="#000" stroke-width="6.0" stroke-linecap="butt"/>
<line x1="2154.5" y1="755.3" x2="2154.5" y2="781.7" stroke="#000" stroke-width="6.0" stroke-linecap="butt"/>
<text transform="translate(304.8 858.5) scale(1.000 1.030)" font-size="80.0" text-anchor="middle">0</text>
<text transform="translate(510.3 858.5) scale(1.000 1.030)" font-size="80.0" text-anchor="middle">100</text>
<text transform="translate(715.7 858.5) scale(1.000 1.030)" font-size="80.0" text-anchor="middle">200</text>
<text transform="translate(921.2 858.5) scale(1.000 1.030)" font-size="80.0" text-anchor="middle">300</text>
<text transform="translate(1126.7 858.5) scale(1.000 1.030)" font-size="80.0" text-anchor="middle">400</text>
<text transform="translate(1332.1 858.5) scale(1.000 1.030)" font-size="80.0" text-anchor="middle">500</text>
<text transform="translate(1537.6 858.5) scale(1.000 1.030)" font-size="80.0" text-anchor="middle">600</text>
<text transform="translate(1743.1 858.5) scale(1.000 1.030)" font-size="80.0" text-anchor="middle">700</text>
<text transform="translate(1948.6 858.5) scale(1.000 1.030)" font-size="80.0" text-anchor="middle">800</text>
<text transform="translate(2154.0 858.5) scale(1.000 1.030)" font-size="80.0" text-anchor="middle">900</text>
<line x1="277.9" y1="255.4" x2="305.9" y2="255.4" stroke="#000" stroke-width="6.0" stroke-linecap="butt"/>
<text transform="translate(263.5 278.7) scale(1.000 1.030)" font-size="80.0" text-anchor="end">10.0</text>
<line x1="277.9" y1="356.1" x2="305.9" y2="356.1" stroke="#000" stroke-width="6.0" stroke-linecap="butt"/>
<text transform="translate(263.5 379.4) scale(1.000 1.030)" font-size="80.0" text-anchor="end">7.5</text>
<line x1="277.9" y1="456.9" x2="305.9" y2="456.9" stroke="#000" stroke-width="6.0" stroke-linecap="butt"/>
<text transform="translate(263.5 480.2) scale(1.000 1.030)" font-size="80.0" text-anchor="end">5.0</text>
<line x1="277.9" y1="557.6" x2="305.9" y2="557.6" stroke="#000" stroke-width="6.0" stroke-linecap="butt"/>
<text transform="translate(263.5 580.9) scale(1.000 1.030)" font-size="80.0" text-anchor="end">2.5</text>
<line x1="277.9" y1="658.4" x2="305.9" y2="658.4" stroke="#000" stroke-width="6.0" stroke-linecap="butt"/>
<text transform="translate(263.5 681.7) scale(1.000 1.030)" font-size="80.0" text-anchor="end">0.0</text>
<line x1="289.9" y1="205.0" x2="305.9" y2="205.0" stroke="#000" stroke-width="6.0" stroke-linecap="butt"/>
<line x1="289.9" y1="305.8" x2="305.9" y2="305.8" stroke="#000" stroke-width="6.0" stroke-linecap="butt"/>
<line x1="289.9" y1="406.5" x2="305.9" y2="406.5" stroke="#000" stroke-width="6.0" stroke-linecap="butt"/>
<line x1="289.9" y1="507.3" x2="305.9" y2="507.3" stroke="#000" stroke-width="6.0" stroke-linecap="butt"/>
<line x1="289.9" y1="608.0" x2="305.9" y2="608.0" stroke="#000" stroke-width="6.0" stroke-linecap="butt"/>
<line x1="289.9" y1="708.8" x2="305.9" y2="708.8" stroke="#000" stroke-width="6.0" stroke-linecap="butt"/>
</g>
<g id="bottom-axes">
<line x1="305.9" y1="873.3" x2="305.9" y2="1498.4" stroke="#000" stroke-width="6.0" stroke-linecap="butt"/>
<line x1="302.9" y1="1472.0" x2="2158.1" y2="1472.0" stroke="#000" stroke-width="6.0" stroke-linecap="butt"/>
<line x1="408.0" y1="1472.0" x2="408.0" y2="1487.7" stroke="#000" stroke-width="6.0" stroke-linecap="butt"/>
<line x1="510.8" y1="1472.0" x2="510.8" y2="1498.4" stroke="#000" stroke-width="6.0" stroke-linecap="butt"/>
<line x1="613.5" y1="1472.0" x2="613.5" y2="1487.7" stroke="#000" stroke-width="6.0" stroke-linecap="butt"/>
<line x1="716.2" y1="1472.0" x2="716.2" y2="1498.4" stroke="#000" stroke-width="6.0" stroke-linecap="butt"/>
<line x1="819.0" y1="1472.0" x2="819.0" y2="1487.7" stroke="#000" stroke-width="6.0" stroke-linecap="butt"/>
<line x1="921.7" y1="1472.0" x2="921.7" y2="1498.4" stroke="#000" stroke-width="6.0" stroke-linecap="butt"/>
<line x1="1024.4" y1="1472.0" x2="1024.4" y2="1487.7" stroke="#000" stroke-width="6.0" stroke-linecap="butt"/>
<line x1="1127.2" y1="1472.0" x2="1127.2" y2="1498.4" stroke="#000" stroke-width="6.0" stroke-linecap="butt"/>
<line x1="1229.9" y1="1472.0" x2="1229.9" y2="1487.7" stroke="#000" stroke-width="6.0" stroke-linecap="butt"/>
<line x1="1332.6" y1="1472.0" x2="1332.6" y2="1498.4" stroke="#000" stroke-width="6.0" stroke-linecap="butt"/>
<line x1="1435.4" y1="1472.0" x2="1435.4" y2="1487.7" stroke="#000" stroke-width="6.0" stroke-linecap="butt"/>
<line x1="1538.1" y1="1472.0" x2="1538.1" y2="1498.4" stroke="#000" stroke-width="6.0" stroke-linecap="butt"/>
<line x1="1640.9" y1="1472.0" x2="1640.9" y2="1487.7" stroke="#000" stroke-width="6.0" stroke-linecap="butt"/>
<line x1="1743.6" y1="1472.0" x2="1743.6" y2="1498.4" stroke="#000" stroke-width="6.0" stroke-linecap="butt"/>
<line x1="1846.3" y1="1472.0" x2="1846.3" y2="1487.7" stroke="#000" stroke-width="6.0" stroke-linecap="butt"/>
<line x1="1949.1" y1="1472.0" x2="1949.1" y2="1498.4" stroke="#000" stroke-width="6.0" stroke-linecap="butt"/>
<line x1="2051.8" y1="1472.0" x2="2051.8" y2="1487.7" stroke="#000" stroke-width="6.0" stroke-linecap="butt"/>
<line x1="2154.5" y1="1472.0" x2="2154.5" y2="1498.4" stroke="#000" stroke-width="6.0" stroke-linecap="butt"/>
<text transform="translate(304.8 1574.0) scale(1.000 1.030)" font-size="80.0" text-anchor="middle">0</text>
<text transform="translate(510.3 1574.0) scale(1.000 1.030)" font-size="80.0" text-anchor="middle">100</text>
<text transform="translate(715.7 1574.0) scale(1.000 1.030)" font-size="80.0" text-anchor="middle">200</text>
<text transform="translate(921.2 1574.0) scale(1.000 1.030)" font-size="80.0" text-anchor="middle">300</text>
<text transform="translate(1126.7 1574.0) scale(1.000 1.030)" font-size="80.0" text-anchor="middle">400</text>
<text transform="translate(1332.1 1574.0) scale(1.000 1.030)" font-size="80.0" text-anchor="middle">500</text>
<text transform="translate(1537.6 1574.0) scale(1.000 1.030)" font-size="80.0" text-anchor="middle">600</text>
<text transform="translate(1743.1 1574.0) scale(1.000 1.030)" font-size="80.0" text-anchor="middle">700</text>
<text transform="translate(1948.6 1574.0) scale(1.000 1.030)" font-size="80.0" text-anchor="middle">800</text>
<text transform="translate(2154.0 1574.0) scale(1.000 1.030)" font-size="80.0" text-anchor="middle">900</text>
<line x1="277.9" y1="930.7" x2="305.9" y2="930.7" stroke="#000" stroke-width="6.0" stroke-linecap="butt"/>
<text transform="translate(263.5 954.0) scale(1.000 1.030)" font-size="80.0" text-anchor="end">100</text>
<line x1="277.9" y1="1039.0" x2="305.9" y2="1039.0" stroke="#000" stroke-width="6.0" stroke-linecap="butt"/>
<text transform="translate(263.5 1062.3) scale(1.000 1.030)" font-size="80.0" text-anchor="end">90</text>
<line x1="277.9" y1="1147.2" x2="305.9" y2="1147.2" stroke="#000" stroke-width="6.0" stroke-linecap="butt"/>
<text transform="translate(263.5 1170.5) scale(1.000 1.030)" font-size="80.0" text-anchor="end">80</text>
<line x1="277.9" y1="1255.5" x2="305.9" y2="1255.5" stroke="#000" stroke-width="6.0" stroke-linecap="butt"/>
<text transform="translate(263.5 1278.8) scale(1.000 1.030)" font-size="80.0" text-anchor="end">70</text>
<line x1="277.9" y1="1363.7" x2="305.9" y2="1363.7" stroke="#000" stroke-width="6.0" stroke-linecap="butt"/>
<text transform="translate(263.5 1387.0) scale(1.000 1.030)" font-size="80.0" text-anchor="end">60</text>
<line x1="277.9" y1="1472.0" x2="305.9" y2="1472.0" stroke="#000" stroke-width="6.0" stroke-linecap="butt"/>
<text transform="translate(263.5 1495.3) scale(1.000 1.030)" font-size="80.0" text-anchor="end">50</text>
<line x1="289.9" y1="876.6" x2="305.9" y2="876.6" stroke="#000" stroke-width="6.0" stroke-linecap="butt"/>
<line x1="289.9" y1="984.8" x2="305.9" y2="984.8" stroke="#000" stroke-width="6.0" stroke-linecap="butt"/>
<line x1="289.9" y1="1093.1" x2="305.9" y2="1093.1" stroke="#000" stroke-width="6.0" stroke-linecap="butt"/>
<line x1="289.9" y1="1201.4" x2="305.9" y2="1201.4" stroke="#000" stroke-width="6.0" stroke-linecap="butt"/>
<line x1="289.9" y1="1309.6" x2="305.9" y2="1309.6" stroke="#000" stroke-width="6.0" stroke-linecap="butt"/>
<line x1="289.9" y1="1417.9" x2="305.9" y2="1417.9" stroke="#000" stroke-width="6.0" stroke-linecap="butt"/>
</g>
<text transform="translate(1230.0 973.7) scale(1.000 1.040)" font-size="92.0" text-anchor="middle" textLength="754.0" lengthAdjust="spacingAndGlyphs">Temperature (°C)</text>
<text transform="translate(1230.0 1659.7) scale(1.000 1.040)" font-size="92.0" text-anchor="middle" textLength="754.0" lengthAdjust="spacingAndGlyphs">Temperature (°C)</text>
<text transform="translate(103.0 457.5) rotate(-90) scale(1.000 1.040)" font-size="91.5" text-anchor="middle" textLength="595.0" lengthAdjust="spacingAndGlyphs">DSC (mW/mg)</text>
<text transform="translate(105.8 1146.8) rotate(-90) scale(1.000 1.040)" font-size="92.0" text-anchor="middle" textLength="287.0" lengthAdjust="spacingAndGlyphs">TG (%)</text>
<text transform="translate(360.5 237.0) scale(1.000 1.030)" font-size="89.0">a)</text>
<text transform="translate(365.5 1085.0) scale(1.000 1.030)" font-size="89.0">b)</text>
<text transform="translate(384.8 557.0) scale(1.000 1.040)" font-size="75.0">Exo</text>
<path d="M436.6 567 L447.4 603.3 L440.8 603.3 L440.8 633.5 L432.6 633.5 L432.6 603.3 L425.8 603.3 Z" fill="#000"/>
<g id="legend">
<rect x="1715.5" y="46.0" width="529.8" height="556.6" fill="#000"/>
<rect x="1697.5" y="28.0" width="530.3" height="556.6" fill="#fff" stroke="#000" stroke-width="2"/>
<rect x="1705.5" y="44.5" width="513.3" height="532.6" fill="url(#dz)"/>
<line x1="1732.0" y1="87.3" x2="1874.2" y2="87.3" stroke="#000000" stroke-width="6.2" stroke-linecap="round"/>
<text transform="translate(1896.5 109.7) scale(1.000 1.040)" font-size="82.0">x = 0</text>
<line x1="1732.0" y1="197.7" x2="1874.2" y2="197.7" stroke="#ff0000" stroke-width="6.2" stroke-linecap="round"/>
<text transform="translate(1896.5 220.1) scale(1.000 1.040)" font-size="82.0">x = 0.05</text>
<line x1="1732.0" y1="308.1" x2="1874.2" y2="308.1" stroke="#0000ff" stroke-width="6.2" stroke-linecap="round"/>
<text transform="translate(1896.5 330.5) scale(1.000 1.040)" font-size="82.0">x = 0.10</text>
<line x1="1732.0" y1="418.5" x2="1874.2" y2="418.5" stroke="#ff00ff" stroke-width="6.2" stroke-linecap="round"/>
<text transform="translate(1896.5 440.9) scale(1.000 1.040)" font-size="82.0">x = 0.15</text>
<line x1="1732.0" y1="528.9" x2="1874.2" y2="528.9" stroke="#008000" stroke-width="6.2" stroke-linecap="round"/>
<text transform="translate(1896.5 551.3) scale(1.000 1.040)" font-size="82.0">x = 0.20</text>
</g>
</svg></body></html>
